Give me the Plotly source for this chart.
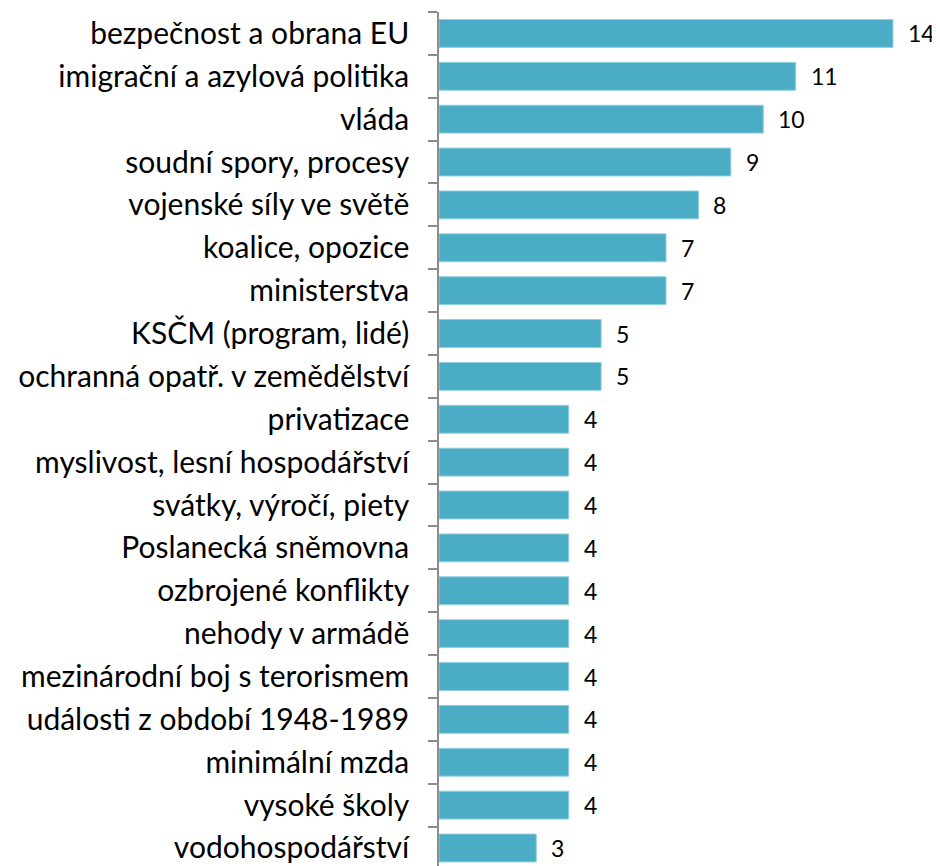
import plotly.graph_objects as go

categories = [
    "bezpečnost a obrana EU",
    "imigrační a azylová politika",
    "vláda",
    "soudní spory, procesy",
    "vojenské síly ve světě",
    "koalice, opozice",
    "ministerstva",
    "KSČM (program, lidé)",
    "ochranná opatř. v zemědělství",
    "privatizace",
    "myslivost, lesní hospodářství",
    "svátky, výročí, piety",
    "Poslanecká sněmovna",
    "ozbrojené konflikty",
    "nehody v armádě",
    "mezinárodní boj s terorismem",
    "události z období 1948-1989",
    "minimální mzda",
    "vysoké školy",
    "vodohospodářství",
]
values = [14, 11, 10, 9, 8, 7, 7, 5, 5, 4, 4, 4, 4, 4, 4, 4, 4, 4, 4, 3]

bar_color = "#4BACC6"
font_family = "Lato, Calibri, Carlito, sans-serif"

fig = go.Figure()
fig.add_trace(go.Bar(
    x=values,
    y=categories,
    orientation="h",
    marker=dict(color=bar_color, line=dict(color="#8fd0e0", width=1)),
    width=0.65,
    hoverinfo="skip",
))

for c, v in zip(categories, values):
    fig.add_annotation(
        x=v, y=c, text=str(v), showarrow=False,
        xanchor="left", yanchor="middle", xshift=13,
        font=dict(family=font_family, size=23, color="#000000"),
    )

fig.update_layout(
    width=932, height=858,
    margin=dict(l=431, r=0, t=3.5, b=0),
    paper_bgcolor="white", plot_bgcolor="white",
    showlegend=False,
    font=dict(family=font_family, color="#000000"),
    xaxis=dict(
        range=[0, 15.45], visible=False, showgrid=False, zeroline=False,
    ),
    yaxis=dict(
        categoryorder="array", categoryarray=categories,
        range=[19.42, -0.5],
        showline=True, linecolor="#8c8c8c", linewidth=1.5,
        ticks="outside", tickson="boundaries", ticklen=9,
        tickcolor="#8c8c8c", tickwidth=1.5,
        tickfont=dict(family=font_family, size=30, color="#000000"),
        ticklabelstandoff=22,
        showgrid=False, zeroline=False,
    ),
)

fig.write_html("out.html")
